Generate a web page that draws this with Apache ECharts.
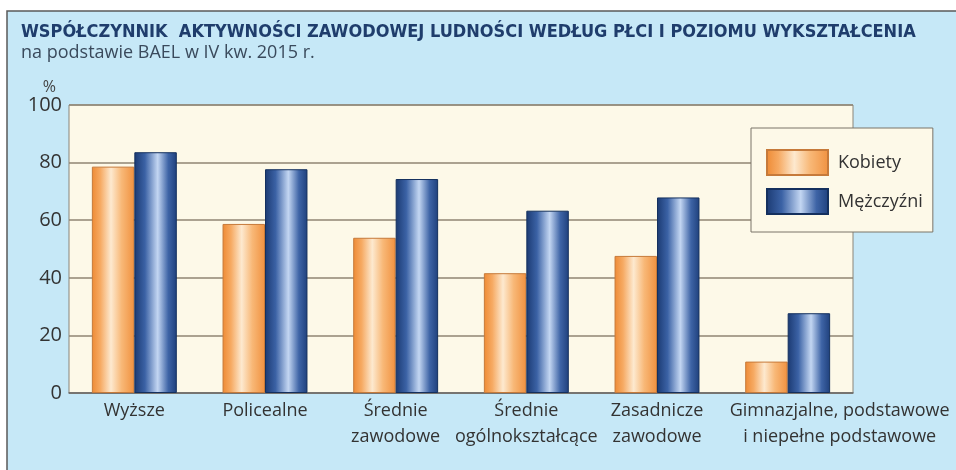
<!DOCTYPE html>
<html>
<head>
<meta charset="utf-8">
<script src="https://cdn.jsdelivr.net/npm/echarts@6/dist/echarts.min.js"></script>
<style>html,body{margin:0;padding:0;background:#fff;}#c{width:956px;height:470px;}</style>
</head>
<body>
<div id="c"></div>
<script>
var categories = ['Wyższe', 'Policealne', 'Średnie\nzawodowe', 'Średnie\nogólnokształcące', 'Zasadnicze\nzawodowe', 'Gimnazjalne, podstawowe\ni niepełne podstawowe'];
var kobiety = [78.6, 58.7, 53.9, 41.6, 47.6, 10.9];
var mezczyzni = [83.6, 77.7, 74.3, 63.3, 67.9, 27.7];
var yTicks = [0, 20, 40, 60, 80, 100];

var FONT = 'Open Sans';
var chart = echarts.init(document.getElementById('c'));

function grad(stops) {
  return new echarts.graphic.LinearGradient(0, 0, 1, 0, stops);
}
var orangeGrad = grad([
  {offset: 0, color: '#ee8a34'},
  {offset: 0.2, color: '#f6aa63'},
  {offset: 0.45, color: '#fde9cf'},
  {offset: 0.7, color: '#f8b877'},
  {offset: 1, color: '#f0913f'}
]);
var blueGrad = grad([
  {offset: 0, color: '#1b3a72'},
  {offset: 0.25, color: '#3b62a5'},
  {offset: 0.55, color: '#c3d6f2'},
  {offset: 0.8, color: '#3e64a6'},
  {offset: 1, color: '#1f407c'}
]);

// the last (long) label sits shifted to the right, as in the reference
var xData = categories.map(function (c, i) {
  return i === categories.length - 1 ? {value: c, textStyle: {padding: [0, 0, 0, 104]}} : c;
});

chart.setOption({
  backgroundColor: '#ffffff',
  animation: false,
  graphic: [{
    type: 'rect', z: -10, silent: true,
    shape: {x: 7, y: 11, width: 960, height: 470},
    style: {fill: '#c6e8f7', stroke: '#5a5a5a', lineWidth: 1.5}
  }],
  title: [{
    text: 'WSPÓŁCZYNNIK  AKTYWNOŚCI ZAWODOWEJ LUDNOŚCI WEDŁUG PŁCI I POZIOMU WYKSZTAŁCENIA',
    left: 21, top: 23, padding: 0,
    textStyle: {fontFamily: 'DejaVu Sans Condensed', fontWeight: 'bold', fontSize: 18, color: '#1f3d6c'}
  }, {
    text: 'na podstawie BAEL w IV kw. 2015 r.',
    left: 21, top: 44, padding: 0,
    textStyle: {fontFamily: FONT, fontWeight: 'normal', fontSize: 18, color: '#3a4a5c'}
  }],
  legend: {
    orient: 'vertical',
    left: 751, top: 128,
    padding: [21, 10, 17, 15],
    itemWidth: 61, itemHeight: 25, itemGap: 12,
    icon: 'rect',
    backgroundColor: '#fdf9e8',
    borderColor: '#7a7468', borderWidth: 1,
    textStyle: {fontFamily: FONT, fontSize: 18, color: '#333', width: 92, padding: [0, 0, 0, 5]},
    data: ['Kobiety', 'Mężczyźni']
  },
  grid: {
    left: 69, right: 103, top: 105, bottom: 77,
    show: true, backgroundColor: '#fdf9e8', borderColor: '#8a8478', borderWidth: 1
  },
  xAxis: {
    type: 'category',
    data: xData,
    axisTick: {show: false},
    axisLine: {lineStyle: {color: '#6b6b6b', width: 1.5}},
    axisLabel: {fontFamily: FONT, fontSize: 18, color: '#333', lineHeight: 26, margin: 5, interval: 0}
  },
  yAxis: {
    type: 'value', min: 0, max: 100, interval: 20,
    name: '%', nameLocation: 'end', nameGap: 5,
    nameTextStyle: {fontFamily: FONT, fontSize: 16, color: '#444', align: 'right', padding: [0, 13, 0, 0]},
    axisLine: {show: false}, axisTick: {show: false},
    splitLine: {lineStyle: {color: '#8f8573', width: 1.5}},
    axisLabel: {fontFamily: FONT, fontSize: 20, color: '#333', margin: 7,
      formatter: function (v) { return yTicks.indexOf(v) >= 0 ? String(v) : ''; }}
  },
  series: [{
    name: 'Kobiety', type: 'bar', data: kobiety,
    barGap: '0%', barCategoryGap: '35%',
    itemStyle: {color: orangeGrad, borderColor: '#c67a3a', borderWidth: 1}
  }, {
    name: 'Mężczyźni', type: 'bar', data: mezczyzni,
    barGap: '0%', barCategoryGap: '35%',
    itemStyle: {color: blueGrad, borderColor: '#14305e', borderWidth: 1}
  }]
});
</script>
</body>
</html>
